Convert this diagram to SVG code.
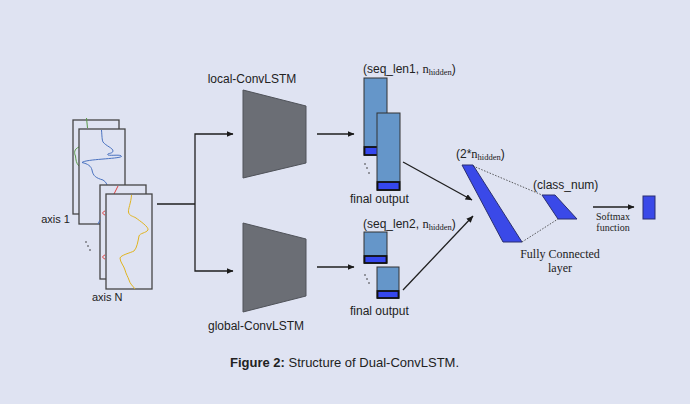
<svg xmlns="http://www.w3.org/2000/svg" width="690" height="404" viewBox="0 0 690 404">
<defs>
<marker id="ah" markerWidth="7" markerHeight="6" refX="6.5" refY="3" orient="auto" markerUnits="userSpaceOnUse">
<path d="M0,0 L7,3 L0,6 z" fill="#1a1a1a"/>
</marker>
<style>
.bg{fill:#dfe3f2}
.panel{fill:#dfe3f2;stroke:#454545;stroke-width:1.3}
.wire{fill:none;stroke:#1f1f1f;stroke-width:1.3}
.arr{fill:none;stroke:#1f1f1f;stroke-width:1.3;marker-end:url(#ah)}
.dot{fill:none;stroke:#333;stroke-width:0.8;stroke-dasharray:1.5 1.5}
.trap{fill:#6b6e75;stroke:#50535a;stroke-width:1}
.seq{fill:#6596c9;stroke:#333;stroke-width:1}
.band{fill:#3547ee;stroke:#111;stroke-width:1.8}
.fc{fill:#3a49e8;stroke:#2a2f70;stroke-width:1}
.sans{font-family:"Liberation Sans",Arial,sans-serif;fill:#222}
.serif{font-family:"Liberation Serif","Times New Roman",serif;fill:#222}
.ell{fill:#333}
</style>
</defs>
<rect class="bg" x="0" y="0" width="690" height="404"/>

<g id="input-axis1">
<rect class="panel" x="73" y="120" width="46" height="94"/>
<path d="M86.5,118 L87.5,128 M79,147 C74,149 74,153 75.5,156 C76,160 76,163 79,166" fill="none" stroke="#5a9a4a" stroke-width="1"/>
<rect class="panel" x="79" y="129" width="46" height="95"/>
<path d="M101.5,130 C102,136 102,140 103,142 C106,146 113,148 113,151 C113,154 106,153 108,155 C112,156 121,154 121.5,156.5 C118,159 86,159 82,162.5 C88,164 91,166 92,170 C93,176 96,178 103,180 C106,182 107,184 107,186" fill="none" stroke="#4a72c0" stroke-width="1"/>
<text class="sans" x="70" y="223" font-size="11" text-anchor="end">axis 1</text>
</g>

<g id="input-axisN">
<rect class="panel" x="100" y="185" width="46" height="94"/>
<path d="M114,194 L118,186 M105,211 C102,212 102,214 105,215 M105,255 C102,256 102,258 105,259" fill="none" stroke="#e04040" stroke-width="1"/>
<path d="M98,224 L100,220" fill="none" stroke="#4a72c0" stroke-width="1"/>
<rect class="panel" x="106" y="194" width="46" height="95"/>
<path d="M131.5,195 C131,203 128,209 128.5,212 C129,216 133,216 136,218 C140,221 149,227 148,230 C146,233 140,233 139,236 C138,241 137,248 134,251 C130,253 121,255 120,258 C120,262 124,266 125,270 C126,274 128,277 129,280 C130,284 133,286 135,289" fill="none" stroke="#e0b420" stroke-width="1"/>
<text class="sans" x="92" y="301" font-size="11">axis N</text>
<circle class="ell" cx="86" cy="242" r="0.8"/>
<circle class="ell" cx="88" cy="246" r="0.8"/>
<circle class="ell" cx="90" cy="250" r="0.8"/>
</g>

<g id="local-convlstm">
<polygon class="trap" points="243,90 306,106 306,163 243,178"/>
<text class="sans" x="252" y="83" font-size="12" text-anchor="middle">local-ConvLSTM</text>
</g>

<g id="global-convlstm">
<polygon class="trap" points="243,223 306,239 306,296 243,312"/>
<text class="sans" x="256" y="330" font-size="12" text-anchor="middle">global-ConvLSTM</text>
</g>

<g id="local-output">
<text class="sans" x="363" y="73" font-size="12">(seq_len1, <tspan class="serif" font-size="12.5">n</tspan><tspan class="serif" font-size="8.5" dy="2">hidden</tspan><tspan dy="-2">)</tspan></text>
<rect class="seq" x="364" y="78" width="23" height="77"/>
<rect class="band" x="364.5" y="147" width="22" height="8"/>
<rect class="seq" x="377" y="113" width="23" height="77"/>
<rect class="band" x="377.5" y="182" width="22" height="8"/>
<circle class="ell" cx="365" cy="164" r="0.8"/>
<circle class="ell" cx="367" cy="168" r="0.8"/>
<circle class="ell" cx="369" cy="173" r="0.8"/>
<text class="sans" x="350" y="203" font-size="12">final output</text>
</g>

<g id="global-output">
<text class="sans" x="363" y="228" font-size="12">(seq_len2, <tspan class="serif" font-size="12.5">n</tspan><tspan class="serif" font-size="8.5" dy="2">hidden</tspan><tspan dy="-2">)</tspan></text>
<rect class="seq" x="364" y="232" width="23" height="31"/>
<rect class="band" x="364.5" y="256" width="22" height="7"/>
<rect class="seq" x="377" y="267" width="22" height="31"/>
<rect class="band" x="377.5" y="291" width="21" height="7"/>
<circle class="ell" cx="365" cy="275" r="0.8"/>
<circle class="ell" cx="367" cy="279" r="0.8"/>
<circle class="ell" cx="369" cy="283" r="0.8"/>
<text class="sans" x="350" y="315" font-size="12">final output</text>
</g>

<g id="fully-connected">
<text class="sans" x="456" y="158" font-size="12">(2*<tspan class="serif" font-size="12.5">n</tspan><tspan class="serif" font-size="8.5" dy="2">hidden</tspan><tspan dy="-2">)</tspan></text>
<polygon class="fc" points="462,165 473,165 522,242 503,242"/>
<text class="sans" x="533" y="189" font-size="12">(class_num)</text>
<polygon class="fc" points="542,195 555,195 577,219 558,219"/>
<text class="serif" x="560" y="258" font-size="12" text-anchor="middle">Fully Connected</text>
<text class="serif" x="560" y="272" font-size="12" text-anchor="middle">layer</text>
</g>

<g id="softmax-output">
<text class="serif" x="613" y="220" font-size="10" text-anchor="middle">Softmax</text>
<text class="serif" x="613" y="231" font-size="10" text-anchor="middle">function</text>
<rect class="fc" x="643" y="196" width="12" height="23"/>
</g>

<g id="connectors">
<path class="wire" d="M157,204 L195,204"/>
<path class="arr" d="M195,204 L195,134 L233,134"/>
<path class="arr" d="M195,204 L195,271 L233,271"/>
<path class="arr" d="M317,134 L354,134"/>
<path class="arr" d="M317,267 L354,267"/>
<path class="arr" d="M403,162 L472,200"/>
<path class="arr" d="M403,290 L473,216"/>
<path class="dot" d="M473,166 L542,195"/>
<path class="dot" d="M522,242 L558,219"/>
<path class="arr" d="M593,207 L634,207"/>
</g>

<text class="sans" x="230" y="367" font-size="13"><tspan font-weight="bold">Figure 2:</tspan> Structure of Dual-ConvLSTM.</text>
</svg>
